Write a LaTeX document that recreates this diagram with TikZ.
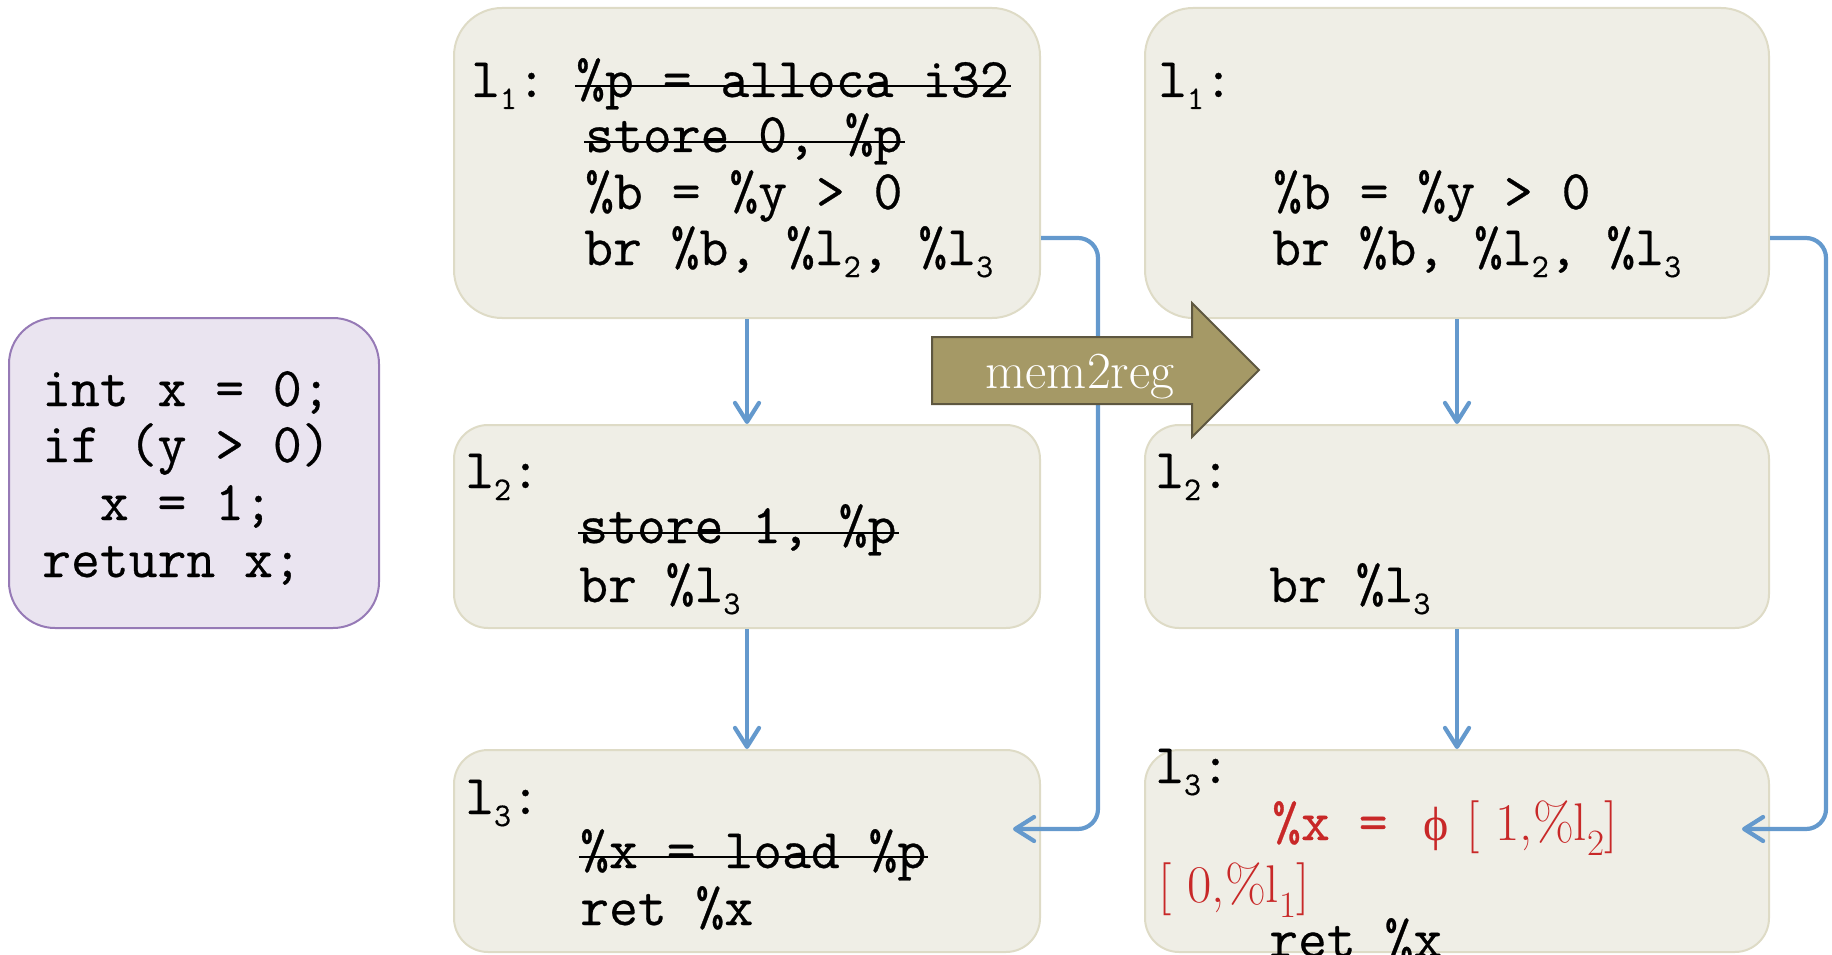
\documentclass[tikz,border=0pt]{standalone}
\usepackage{fontspec}
\setmonofont{Latin Modern Mono}[FakeBold=0.5]
\newfontfamily\phifont{Liberation Serif}
\usetikzlibrary{arrows.meta}

\definecolor{blkfill}{RGB}{239,238,230}
\definecolor{blkline}{RGB}{222,219,198}
\definecolor{srcfill}{RGB}{234,228,240}
\definecolor{srcline}{RGB}{150,122,182}
\definecolor{flowblue}{RGB}{100,153,205}
\definecolor{passfill}{RGB}{165,153,102}
\definecolor{passline}{RGB}{94,87,64}
\definecolor{phired}{RGB}{200,40,40}

% subscript for block labels in the code font
\newcommand\sbs[1]{\raisebox{-12pt}{\fontsize{33}{33}\selectfont #1}}

\tikzset{
  blk/.style={draw=blkline, fill=blkfill, line width=2pt, rounded corners=#1, inner sep=0pt},
  blk/.default=34pt,
  srcbox/.style={draw=srcline, fill=srcfill, line width=2pt, rounded corners=46pt, inner sep=0pt},
  code/.style={anchor=base west, inner sep=0pt, font=\fontsize{56}{60}\selectfont\ttfamily},
  redcode/.style={code, text=phired},
  redserif/.style={anchor=base west, inner sep=0pt, text=phired, font=\fontsize{53}{56}\selectfont\rmfamily},
  strike/.style={line width=2.8pt, black},
  flow/.style={draw=flowblue, line width=4.2pt, rounded corners=20pt,
    -{Straight Barb[length=19pt,width=24pt,round]}},
  passarrow/.style={fill=passfill, draw=passline, line width=2pt, line join=miter},
}

\begin{document}
\begin{tikzpicture}[x=1pt,y=-1pt]
\useasboundingbox (0,0) rectangle (1832,955);

% C source
\node[srcbox, minimum width=370pt, minimum height=310pt] (src) at (194,473) {};
\node[code] (c1) at (42,406) {int x = 0;};
\node[code] (c2) at (42,462) {if (y > 0)};
\node[code] (c3) at (42,520) {\phantom{xx}x = 1;};
\node[code] (c4) at (42,577) {return x;};

% basic blocks before the pass
\node[blk=48pt, minimum width=586pt, minimum height=310pt] (lt) at (747,163) {};
\node[blk, minimum width=586pt, minimum height=203pt] (lm) at (747,526.5) {};
\node[blk, minimum width=586pt, minimum height=202pt] (lb) at (747,851) {};

% basic blocks after the pass
\node[blk=48pt, minimum width=624pt, minimum height=310pt] (rt) at (1457,163) {};
\node[blk, minimum width=624pt, minimum height=203pt] (rm) at (1457,526.5) {};
\node[blk, minimum width=624pt, minimum height=202pt] (rb) at (1457,851) {};

% block l1, before
\node[code] (a1) at (471,97) {l\sbs{1}:};
\node[code] (a2) at (576,97) {\%p = alloca i32};
\node[code] (a3) at (585,152) {store 0, \%p};
\node[code] (a4) at (585,209) {\%b = \%y > 0};
\node[code] (a5) at (584,265) {br \%b, \%l\sbs{2}, \%l\sbs{3}};
\draw[strike] ([xshift=-1pt,yshift=11pt]a2.base west) -- ([xshift=2pt,yshift=11pt]a2.base east);
\draw[strike] ([xshift=-1pt,yshift=10pt]a3.base west) -- ([xshift=2pt,yshift=10pt]a3.base east);

% block l2, before
\node[code] (b1) at (465,488) {l\sbs{2}:};
\node[code] (b2) at (579,543) {store 1, \%p};
\node[code] (b3) at (579,602) {br \%l\sbs{3}};
\draw[strike] ([xshift=-1pt,yshift=10pt]b2.base west) -- ([xshift=2pt,yshift=10pt]b2.base east);

% block l3, before
\node[code] (d1) at (465,814) {l\sbs{3}:};
\node[code] (d2) at (580,868) {\%x = load \%p};
\node[code] (d3) at (580,925) {ret \%x};
\draw[strike] ([xshift=-1pt,yshift=11pt]d2.base west) -- ([xshift=2pt,yshift=11pt]d2.base east);

% block l1, after
\node[code] (e1) at (1158,97) {l\sbs{1}:};
\node[code] (e2) at (1273,209) {\%b = \%y > 0};
\node[code] (e3) at (1272,265) {br \%b, \%l\sbs{2}, \%l\sbs{3}};

% block l2, after
\node[code] (f1) at (1155,488) {l\sbs{2}:};
\node[code] (f2) at (1269,602) {br \%l\sbs{3}};

% block l3, after
\node[code] (g1) at (1155,783) {l\sbs{3}:};
\node[redcode] (g2) at (1272,840) {\%x =};
\node[anchor=base west, inner sep=0pt, text=phired, font=\fontsize{48}{50}\selectfont\phifont] (g3) at (1423,840) {ϕ};
\node[redserif] (g4) at (1466,840) {[ 1,\%l\textsubscript{2}]};
\node[redserif] (g5) at (1158,902) {[ 0,\%l\textsubscript{1}]};
\node[code] (g6) at (1269,957) {ret \%x};

% control flow edges
\draw[flow] (lt) -- (lm);
\draw[flow] (lm) -- (lb);
\draw[flow] (rt) -- (rm);
\draw[flow] (rm) -- (rb);
\coordinate (ltip) at ([xshift=-28pt,yshift=22pt]lb.east);
\coordinate (rtip) at ([xshift=-28pt,yshift=22pt]rb.east);
\draw[flow] ([yshift=-75pt]lt.east) -- ++(57,0) |- (ltip);
\draw[flow] ([yshift=-75pt]rt.east) -- ++(56,0) |- (rtip);

% the pass
\draw[passarrow] (932,337) -- (1192,337) -- (1192,303) -- (1259,370)
  -- (1192,437) -- (1192,404) -- (932,404) -- cycle;
\node[anchor=base, inner sep=0pt, text=white, font=\fontsize{52}{52}\selectfont] (pass) at (1080,388) {mem2reg};
\end{tikzpicture}
\end{document}
